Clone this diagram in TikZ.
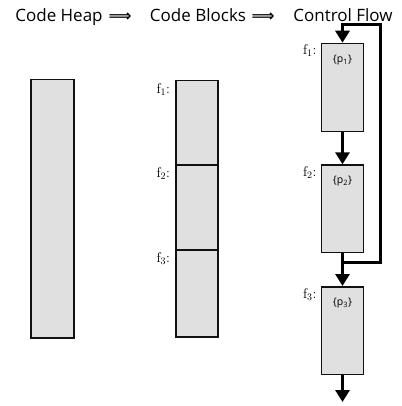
\documentclass[tikz,border=0pt]{standalone}
\usepackage{fontspec}
\setsansfont{Open Sans}
\newfontfamily\arrowfont{DejaVu Sans}
\usetikzlibrary{arrows.meta,calc}
\definecolor{boxfill}{HTML}{E0E0E0}
\definecolor{boxline}{HTML}{111111}
\tikzset{
  blk/.style={draw=boxline, fill=boxfill, line width=1.5pt, minimum width=42pt, inner sep=0pt, anchor=north},
  flab/.style={anchor=north east, inner sep=0pt, font=\fontsize{14}{14}\selectfont},
  plab/.style={anchor=north, inner sep=0pt, font=\sffamily\fontsize{10.5}{10.5}\selectfont},
  head/.style={anchor=base, inner sep=0pt, font=\sffamily\fontsize{17}{17}\selectfont, text=black},
  harrow/.style={anchor=base, inner sep=0pt, font=\arrowfont\bfseries\fontsize{16}{16}\selectfont, text=black},
  flow/.style={line width=3pt, -{Triangle[width=14pt,length=12pt]}}
}
\begin{document}
\begin{tikzpicture}[x=1pt,y=-1pt]
\useasboundingbox (0,0) rectangle (401,406);
% header
\node[head] (h1) at (59,22) {Code Heap};
\node[harrow] (a1) at (120,22) {⟹};
\node[head] (h2) at (198,22) {Code Blocks};
\node[harrow] (a2) at (263,22) {⟹};
\node[head] (h3) at (343,22) {Control Flow};
% code heap
\node[blk, minimum width=43pt, minimum height=258pt] (heap) at (52.5,79) {};
% code blocks
\node[blk, minimum height=84pt] (m1) at (197,80) {};
\node[blk, minimum height=85pt] (m2) at (197,164) {};
\node[blk, minimum height=87pt] (m3) at (197,249) {};
\node[flab] (mf1) at ($(m1.north west)+(-5,3)$) {f$_1$:};
\node[flab] (mf2) at ($(m2.north west)+(-5,3)$) {f$_2$:};
\node[flab] (mf3) at ($(m3.north west)+(-5,3)$) {f$_3$:};
% control flow
\node[blk, minimum height=88pt] (r1) at (342.5,42.7) {};
\node[blk, minimum height=87.4pt] (r2) at (342.5,164.3) {};
\node[blk, minimum height=87.7pt] (r3) at (342.5,286) {};
\node[flab] (rf1) at ($(r1.north west)+(-4,2)$) {f$_1$:};
\node[flab] (rf2) at ($(r2.north west)+(-4,2)$) {f$_2$:};
\node[flab] (rf3) at ($(r3.north west)+(-4,2)$) {f$_3$:};
\node[plab] (p1) at ($(r1.north)+(0,12)$) {\{p\textsubscript{1}\}};
\node[plab] (p2) at ($(r2.north)+(0,12)$) {\{p\textsubscript{2}\}};
\node[plab] (p3) at ($(r3.north)+(0,12)$) {\{p\textsubscript{3}\}};
% connectors
\coordinate (j) at (342.5,262.3);
\coordinate (loopR) at (380,262.3);
\coordinate (loopT) at (380,25);
\coordinate (out) at (342.5,402);
\draw[flow] (r1.south) -- (r2.north);
\draw[flow] (r2.south) -- (r3.north);
\draw[flow] (j) -- (loopR) -- (loopT) -| (r1.north);
\draw[flow] (r3.south) -- (out);
\end{tikzpicture}
\end{document}
